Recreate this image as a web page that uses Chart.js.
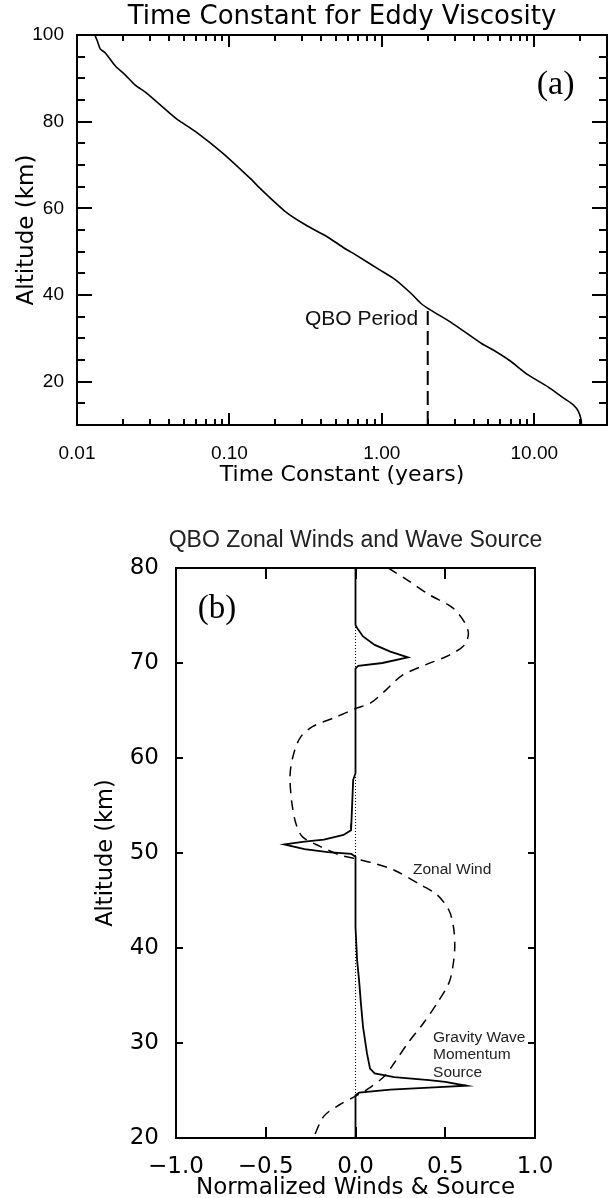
<!DOCTYPE html>
<html>
<head>
<meta charset="utf-8">
<script src="https://cdn.jsdelivr.net/npm/chart.js@4.4.1/dist/chart.umd.min.js"></script>
<style>
  html, body { margin: 0; padding: 0; background: #fff; overflow: hidden; width: 612px; height: 1198px; }
  canvas { position: absolute; left: 0; display: block; }
  #ca { top: 0; }
  #cb { top: 500px; }
</style>
</head>
<body>
<canvas id="ca" width="684" height="500"></canvas>
<canvas id="cb" width="711" height="698"></canvas>
<script>
// ---------- Panel (a): time constant for eddy viscosity ----------
const altA = [100, 98.6, 96.8, 95.8, 92.9, 90.8, 88.5, 86.6, 81.5, 80.4, 77.7, 72.7, 66.9, 64.6, 59.2, 56.2, 53.5, 50.8, 49.2, 45.8, 43.5, 40.4, 38.1, 36.5, 33.8, 28.8, 27.3, 25.0, 21.5, 18.8, 16.2, 14.6, 13.1, 11.2, 10];
const tauA = [0.0131, 0.0136, 0.0142, 0.0154, 0.0178, 0.0207, 0.0240, 0.0286, 0.0420, 0.0459, 0.0600, 0.0907, 0.137, 0.159, 0.234, 0.315, 0.435, 0.568, 0.678, 0.968, 1.23, 1.55, 1.80, 2.09, 2.81, 4.51, 5.38, 6.81, 9.17, 12.3, 15.6, 18.1, 19.5, 20.3, 20.4];
const qboPeriod = 2.0;          // years
const qboAlt = [10, 36.5];      // dashed marker extent (km)
const xTicksA = [0.01, 0.1, 1, 10];
const xMinorA = [0.02,0.03,0.04,0.05,0.06,0.07,0.08,0.09,0.2,0.3,0.4,0.5,0.6,0.7,0.8,0.9,2,3,4,5,6,7,8,9,20];
const yTicksA = [20, 40, 60, 80, 100];
const yMinorA = [15,25,30,35,45,50,55,65,70,75,85,90,95];

// ---------- Panel (b): QBO zonal winds and wave source ----------
const altWind = [80, 78.6, 77.2, 75.8, 74.3, 73.1, 71.9, 70.8, 69.8, 68.7, 67.2, 65.8, 65.2, 64.3, 63.3, 62.2, 60.8, 59.1, 57.7, 55.2, 53.1, 51.7, 50.7, 49.8, 49.4, 48.9, 48.4, 48.0, 46.6, 45.6, 44.0, 42.2, 40.1, 38.0, 36.3, 34.2, 32.1, 30.0, 27.9, 26.5, 25.1, 24.4, 23.5, 22.3, 20.0];
const wind = [0.183, 0.30, 0.41, 0.542, 0.607, 0.629, 0.607, 0.52, 0.39, 0.26, 0.172, 0.085, 0, -0.11, -0.24, -0.306, -0.339, -0.36, -0.365, -0.354, -0.332, -0.295, -0.198, -0.089, 0, 0.107, 0.19, 0.237, 0.368, 0.455, 0.52, 0.546, 0.553, 0.542, 0.52, 0.455, 0.379, 0.292, 0.216, 0.161, 0.064, 0, -0.089, -0.176, -0.235];
const altSrc = [80, 74, 73.65, 72.8, 71.9, 71.2, 70.6, 70.0, 69.7, 69.4, 58.4, 57.7, 53.1, 52.4, 51.9, 51.4, 51.2, 50.9, 50.4, 50.1, 49.9, 49.6, 42.2, 38.7, 36.6, 34.2, 31.7, 28.9, 27.3, 26.8, 26.4, 26.1, 25.9, 25.5, 25.3, 25.1, 24.77, 24.5, 20];
const src = [0, 0, 0.01, 0.042, 0.107, 0.194, 0.292, 0.15, 0.015, 0, 0, -0.013, -0.023, -0.025, -0.067, -0.176, -0.284, -0.397, -0.284, -0.154, -0.023, 0, 0, 0.009, 0.02, 0.03, 0.042, 0.064, 0.081, 0.107, 0.216, 0.41, 0.50, 0.618, 0.41, 0.194, 0.02, 0, 0];
const zeroAlt = [20, 80];
const xTicksB = [-1, -0.5, 0, 0.5, 1];
const yTicksB = [20, 30, 40, 50, 60, 70, 80];

const HERSHEY = "'DejaVu Sans'";
const ARIAL = "'Liberation Sans', Arial, sans-serif";
const SERIF = "'Liberation Serif', 'Times New Roman', serif";

function framePlugin(cfg) {
  return {
    id: 'frame_' + cfg.name,
    afterDatasetsDraw(chart) {
      const ctx = chart.ctx, a = chart.chartArea;
      const xs = chart.scales.x, ys = chart.scales.y;
      ctx.save();
      ctx.strokeStyle = '#000';
      ctx.lineWidth = 2;
      ctx.beginPath();
      const xt = (vals, len) => vals.forEach(v => {
        const p = Math.round(xs.getPixelForValue(v));
        ctx.moveTo(p, a.bottom); ctx.lineTo(p, a.bottom - len);
        ctx.moveTo(p, a.top); ctx.lineTo(p, a.top + len);
      });
      const yt = (vals, len) => vals.forEach(v => {
        const p = Math.round(ys.getPixelForValue(v));
        ctx.moveTo(a.left, p); ctx.lineTo(a.left + len, p);
        ctx.moveTo(a.right, p); ctx.lineTo(a.right - len, p);
      });
      xt(cfg.xMajor, cfg.xMajLen); xt(cfg.xMinor, cfg.xMinLen);
      yt(cfg.yMajor, cfg.yMajLen); yt(cfg.yMinor, cfg.yMinLen);
      ctx.stroke();
      ctx.strokeRect(a.left, a.top, a.right - a.left, a.bottom - a.top);
      cfg.notes.forEach(n => {
        ctx.font = n.font;
        ctx.fillStyle = n.color;
        ctx.textAlign = n.align;
        ctx.textBaseline = 'middle';
        const px = xs.getPixelForValue(n.x), py = ys.getPixelForValue(n.y);
        n.lines.forEach((t, i) => ctx.fillText(t, px, py + i * (n.lh || 0)));
      });
      ctx.restore();
    }
  };
}

const noGrid = { display: false };
const noBorder = { display: false };

// ---------- Chart A ----------
new Chart(document.getElementById('ca'), {
  type: 'scatter',
  data: {
    datasets: [
      { data: tauA.map((t, i) => ({ x: t, y: altA[i] })), showLine: true, borderColor: '#000', borderWidth: 1.6, pointRadius: 0, tension: 0.25 },
      { data: qboAlt.map(h => ({ x: qboPeriod, y: h })), showLine: true, borderColor: '#000', borderWidth: 2, borderDash: [14, 6], pointRadius: 0 }
    ]
  },
  options: {
    responsive: false, animation: false, devicePixelRatio: 1,
    layout: { padding: 0 },
    plugins: {
      legend: { display: false }, tooltip: { enabled: false },
      title: { display: true, text: 'Time Constant for Eddy Viscosity', color: '#000',
        font: { family: HERSHEY, size: 26, weight: 'normal', lineHeight: 1.2 }, padding: { top: 1.8, bottom: 2 } }
    },
    scales: {
      x: {
        type: 'logarithmic', position: 'bottom', min: 0.01, max: 30,
        grid: noGrid, border: noBorder,
        afterBuildTicks: s => { s.ticks = xTicksA.map(v => ({ value: v })); },
        afterFit: s => { s.height = 75; },
        ticks: { color: '#000', padding: 9, maxRotation: 0, autoSkip: false,
          font: { family: ARIAL, size: 19 }, callback: v => Number(v).toFixed(2) },
        title: { display: true, text: 'Time Constant (years)', color: '#000',
          font: { family: HERSHEY, size: 22, lineHeight: 1.2 }, padding: { top: 0, bottom: 12 } }
      },
      y: {
        type: 'linear', position: 'left', min: 10, max: 100,
        grid: noGrid, border: noBorder,
        afterBuildTicks: s => { s.ticks = yTicksA.map(v => ({ value: v })); },
        afterFit: s => { s.width = 77; },
        ticks: { color: '#000', padding: 5, font: { family: ARIAL, size: 19 } },
        title: { display: true, text: 'Altitude (km)', color: '#000',
          font: { family: HERSHEY, size: 23, lineHeight: 1.2 }, padding: { top: 13, bottom: 0 } }
      },
      y2: {
        type: 'linear', position: 'right', display: true,
        grid: noGrid, border: noBorder, ticks: { display: false },
        afterFit: s => { s.width = 77; }
      }
    }
  },
  plugins: [framePlugin({
    name: 'a', xMajor: xTicksA, xMinor: xMinorA, yMajor: yTicksA, yMinor: yMinorA,
    xMajLen: 12, xMinLen: 6, yMajLen: 15, yMinLen: 8,
    notes: [
      { lines: ['(a)'], x: 13.8, y: 88.5, font: "34px " + SERIF, color: '#000', align: 'center' },
      { lines: ['QBO Period'], x: 1.73, y: 34.5, font: "21px " + ARIAL, color: '#111', align: 'right' }
    ]
  })]
});

// ---------- Chart B ----------
new Chart(document.getElementById('cb'), {
  type: 'scatter',
  data: {
    datasets: [
      { data: src.map((v, i) => ({ x: v, y: altSrc[i] })), showLine: true, borderColor: '#000', borderWidth: 1.8, pointRadius: 0, tension: 0 },
      { data: wind.map((v, i) => ({ x: v, y: altWind[i] })), showLine: true, borderColor: '#000', borderWidth: 1.5, borderDash: [10, 7], pointRadius: 0, tension: 0.3 },
      { data: zeroAlt.map(h => ({ x: 0, y: h })), showLine: true, borderColor: '#000', borderWidth: 1, borderDash: [1, 2], pointRadius: 0 }
    ]
  },
  options: {
    responsive: false, animation: false, devicePixelRatio: 1,
    layout: { padding: 0 },
    plugins: {
      legend: { display: false }, tooltip: { enabled: false },
      title: { display: true, text: 'QBO Zonal Winds and Wave Source', color: '#222',
        font: { family: ARIAL, size: 23, weight: 'normal', lineHeight: 1.2 }, padding: { top: 27, bottom: 13.4 } }
    },
    scales: {
      x: {
        type: 'linear', position: 'bottom', min: -1, max: 1,
        grid: noGrid, border: noBorder,
        afterBuildTicks: s => { s.ticks = xTicksB.map(v => ({ value: v })); },
        afterFit: s => { s.height = 60; },
        ticks: { color: '#000', padding: 7, maxRotation: 0, autoSkip: false,
          font: { family: HERSHEY, size: 23 }, callback: v => Number(v).toFixed(1).replace('-', '\u2212') },
        title: { display: true, text: 'Normalized Winds & Source', color: '#000',
          font: { family: HERSHEY, size: 23, lineHeight: 1 }, padding: { top: 0, bottom: -2 } }
      },
      y: {
        type: 'linear', position: 'left', min: 20, max: 80,
        grid: noGrid, border: noBorder,
        afterBuildTicks: s => { s.ticks = yTicksB.map(v => ({ value: v })); },
        afterFit: s => { s.width = 176; },
        ticks: { color: '#000', padding: 9, font: { family: HERSHEY, size: 23 } },
        title: { display: true, text: 'Altitude (km)', color: '#000',
          font: { family: HERSHEY, size: 22.5, lineHeight: 1.2 }, padding: { top: 93, bottom: 0 } }
      },
      y2: {
        type: 'linear', position: 'right', display: true,
        grid: noGrid, border: noBorder, ticks: { display: false },
        afterFit: s => { s.width = 176; }
      }
    }
  },
  plugins: [framePlugin({
    name: 'b', xMajor: xTicksB, xMinor: [], yMajor: yTicksB, yMinor: [],
    xMajLen: 11, xMinLen: 0, yMajLen: 7, yMinLen: 0,
    notes: [
      { lines: ['(b)'], x: -0.772, y: 75.6, font: "33px " + SERIF, color: '#000', align: 'center' },
      { lines: ['Zonal Wind'], x: 0.32, y: 48.2, font: "15.5px " + ARIAL, color: '#222', align: 'left' },
      { lines: ['Gravity Wave', 'Momentum', 'Source'], x: 0.432, y: 30.6, lh: 17.5, font: "15.5px " + ARIAL, color: '#222', align: 'left' }
    ]
  })]
});
</script>
</body>
</html>
